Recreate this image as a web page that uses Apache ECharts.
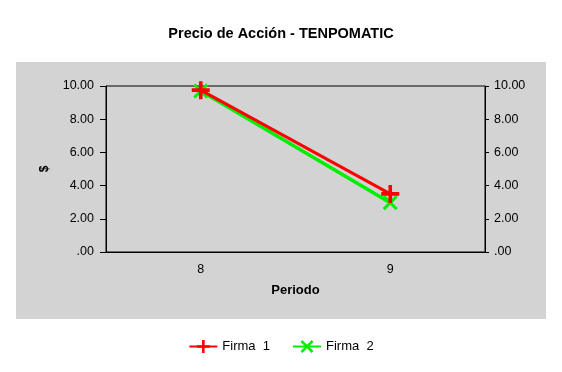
<!DOCTYPE html>
<html><head><meta charset="utf-8">
<script src="https://cdn.jsdelivr.net/npm/echarts@6/dist/echarts.min.js"></script>
<style>html,body{margin:0;padding:0;background:#fff}#c{width:562px;height:372px}</style>
</head><body><div id="c"></div>
<script>
const categories = ['8', '9'];
const firma1 = [9.75, 3.5];
const firma2 = [9.7, 2.97];
const seriesNames = ['Firma  1', 'Firma  2'];
const yTicks = [0, 2, 4, 6, 8, 10];

const plus = 'path://M0,4 L10,4 L10,6 L0,6 Z M4,0 L6,0 L6,10 L4,10 Z';
const xmark = 'path://M1.4,0 L5,3.6 L8.6,0 L10,1.4 L6.4,5 L10,8.6 L8.6,10 L5,6.4 L1.4,10 L0,8.6 L3.6,5 L0,1.4 Z';
const fmt = v => v === 0 ? '.00' : v.toFixed(2);
const font = '"Liberation Sans", Arial, sans-serif';

const chart = echarts.init(document.getElementById('c'), null, {renderer: 'canvas'});
const yAxisCommon = {
  type: 'value', min: yTicks[0], max: yTicks[yTicks.length - 1], interval: 2,
  axisLine: {show: true, lineStyle: {color: '#000', width: 1}},
  axisTick: {show: true, length: 6, lineStyle: {color: '#000'}},
  splitLine: {show: false},
  axisLabel: {formatter: fmt, color: '#000', fontSize: 12.5, fontFamily: font, margin: 12}
};
chart.setOption({
  animation: false,
  textStyle: {fontFamily: font},
  graphic: [{type: 'rect', shape: {x: 16, y: 62, width: 530, height: 257}, style: {fill: '#d3d3d3'}, z: -10, silent: true}],
  title: {text: 'Precio de Acción - TENPOMATIC', left: 'center', top: 21,
    textStyle: {fontSize: 14.5, fontWeight: 'bold', color: '#000', fontFamily: font}},
  grid: {left: 106, right: 77, top: 86, bottom: 120, show: true, borderColor: '#000', borderWidth: 1, backgroundColor: 'transparent'},
  legend: {bottom: 14, left: 'center', itemWidth: 28, itemHeight: 16, itemGap: 22,
    textStyle: {fontSize: 13, color: '#000', fontFamily: font},
    data: seriesNames},
  xAxis: {type: 'category', data: categories, boundaryGap: true,
    name: 'Periodo', nameLocation: 'middle', nameGap: 32,
    nameTextStyle: {fontWeight: 'bold', fontSize: 13, color: '#000', fontFamily: font},
    axisLine: {lineStyle: {color: '#000'}},
    axisTick: {length: 13, alignWithLabel: false, lineStyle: {color: '#000'}},
    axisLabel: {color: '#000', fontSize: 12.5, margin: 11, fontFamily: font}},
  yAxis: [
    Object.assign({}, yAxisCommon, {position: 'left', name: '$', nameLocation: 'middle', nameGap: 55, nameRotate: 90,
      nameTextStyle: {fontWeight: 'bold', fontSize: 12, color: '#000', fontFamily: font}}),
    Object.assign({}, yAxisCommon, {position: 'right', axisTick: {show: true, length: 4, lineStyle: {color: '#000'}},
      axisLabel: Object.assign({}, yAxisCommon.axisLabel, {margin: 9})})
  ],
  series: [
    {name: seriesNames[0], type: 'line', data: firma1, yAxisIndex: 0,
      symbol: plus, symbolSize: 18, showAllSymbol: true,
      lineStyle: {color: '#ff0000', width: 3}, itemStyle: {color: '#ff0000'}, z: 3},
    {name: seriesNames[1], type: 'line', data: firma2, yAxisIndex: 0,
      symbol: xmark, symbolSize: 15, showAllSymbol: true,
      lineStyle: {color: '#00ee00', width: 3.5}, itemStyle: {color: '#00ee00'}, z: 2}
  ]
});
</script></body></html>
